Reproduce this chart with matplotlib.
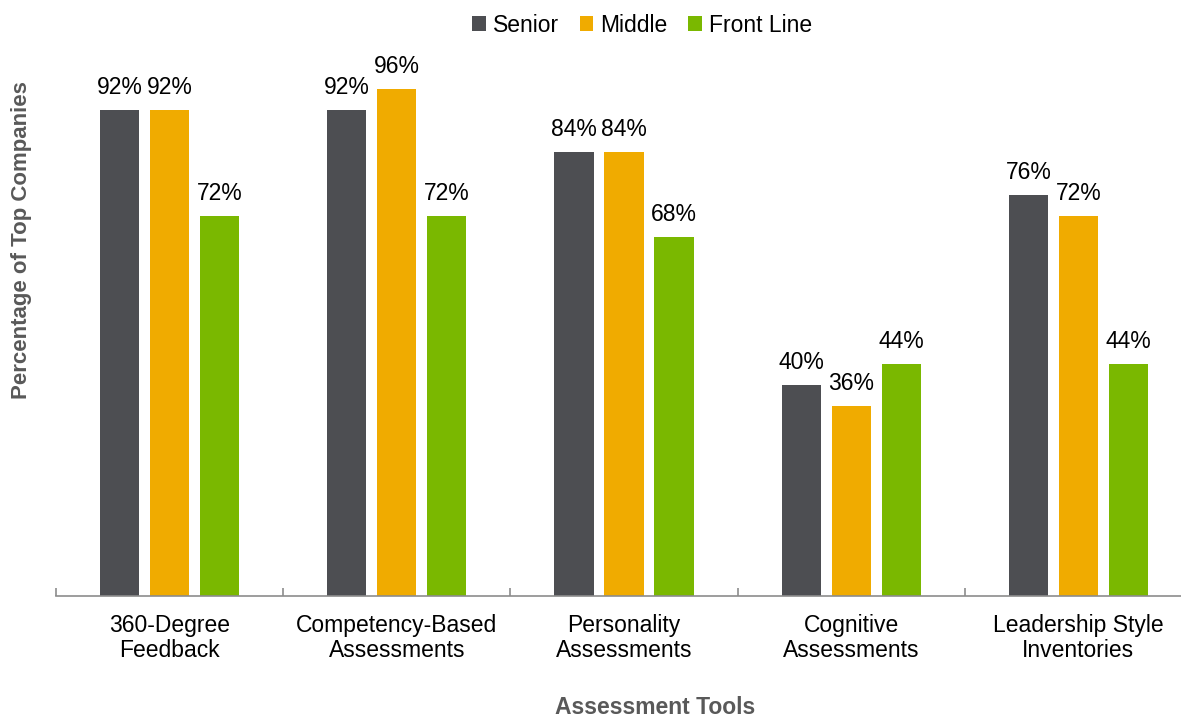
import matplotlib
matplotlib.use('Agg')
import matplotlib.pyplot as plt
import numpy as np

plt.rcParams['font.family'] = ['Liberation Sans', 'DejaVu Sans']

categories = ["360-Degree\nFeedback", "Competency-Based\nAssessments",
              "Personality\nAssessments", "Cognitive\nAssessments",
              "Leadership Style\nInventories"]
series = ["Senior", "Middle", "Front Line"]
senior = [92, 92, 84, 40, 76]
middle = [92, 96, 84, 36, 72]
front_line = [72, 72, 68, 44, 44]
colors = ["#4D4E52", "#F0AB00", "#7AB800"]

W, H = 1181, 719
fig = plt.figure(figsize=(W / 100, H / 100), dpi=100)
# axes in pixel terms: left 56, right 1192, bottom 596, top 68
ax = fig.add_axes([56 / W, (H - 596) / H, (1192 - 56) / W, (596 - 68) / H])

x = np.arange(len(categories))
width = 0.172
offset = 0.22
for i, (vals, name) in enumerate(zip([senior, middle, front_line], series)):
    bars = ax.bar(x + (i - 1) * offset, vals, width, color=colors[i], label=name)
    ax.bar_label(bars, labels=[f"{v}%" for v in vals], padding=8,
                 fontsize=16.5, color="black")

ax.set_xlim(-0.5, len(categories) - 0.5)
ax.set_ylim(0, 100)
ax.set_yticks([])
for s in ["left", "right", "top"]:
    ax.spines[s].set_visible(False)
ax.spines["bottom"].set_color("#8C8C8C")
ax.spines["bottom"].set_linewidth(1.2)

ax.set_xticks(x)
ax.set_xticklabels(categories, fontsize=16.5, linespacing=1.12)
ax.tick_params(axis="x", length=0, pad=13)
ax.set_xticks(np.arange(len(categories) + 1) - 0.5, minor=True)
ax.tick_params(axis="x", which="minor", direction="in", length=6,
               color="#8C8C8C", width=1.2)

fig.text(655 / W, 1 - 708 / H, "Assessment Tools", ha="center", va="center",
         fontsize=16.5, fontweight="bold", color="#595959")
fig.text(22 / W, 1 - 240 / H, "Percentage of Top Companies", ha="center",
         va="center", rotation=90, fontsize=16, fontweight="bold",
         color="#595959")

fig.legend(loc="center", bbox_to_anchor=(642 / W, 1 - 25 / H), ncol=3,
           frameon=False, fontsize=16.5, handlelength=0.6, handleheight=0.6,
           handletextpad=0.3, columnspacing=0.9)

fig.savefig("out.png", dpi=100)
